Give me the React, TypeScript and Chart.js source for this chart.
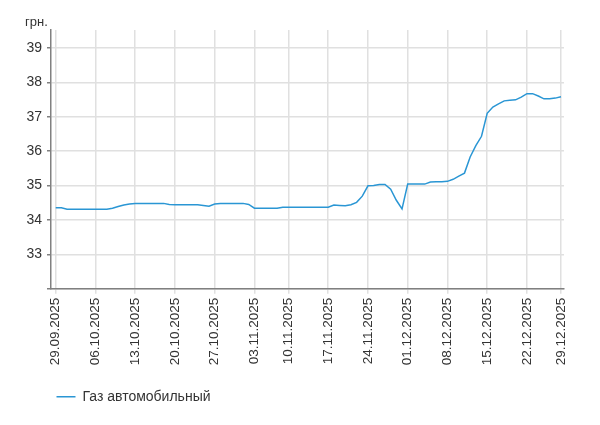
import React, { useEffect, useRef } from 'react';
import { Chart, registerables } from 'chart.js';

Chart.register(...registerables);

// ---- data ----
const firstDate = '2025-09-29';
const lastDate = '2025-12-29';
const missingDates = ['04.11.2025', '25.12.2025'];

const seriesName = 'Газ автомобильный';
const unitLabel = 'грн.';

const gasPrices = [
  34.35, 34.35, 34.31, 34.31, 34.31, 34.31, 34.31, 34.31, 34.31, 34.31,
  34.34, 34.39, 34.43, 34.46, 34.48, 34.48, 34.48, 34.48, 34.48, 34.48,
  34.45, 34.44, 34.44, 34.44, 34.44, 34.44, 34.42, 34.40, 34.46, 34.48,
  34.48, 34.48, 34.48, 34.48, 34.45, 34.34, 34.34, 34.34, 34.34, 34.34,
  34.37, 34.37, 34.37, 34.37, 34.37, 34.37, 34.37, 34.37, 34.37, 34.43,
  34.42, 34.41, 34.44, 34.51, 34.69, 34.99, 35.00, 35.03, 35.03, 34.89,
  34.57, 34.32, 35.04, 35.04, 35.04, 35.04, 35.10, 35.11, 35.11, 35.12,
  35.18, 35.27, 35.36, 35.83, 36.16, 36.43, 37.10, 37.28, 37.37, 37.46,
  37.48, 37.49, 37.57, 37.67, 37.67, 37.60, 37.52, 37.52, 37.54, 37.58,
];

const tickLabels = [
  '29.09.2025', '06.10.2025', '13.10.2025', '20.10.2025', '27.10.2025',
  '03.11.2025', '10.11.2025', '17.11.2025', '24.11.2025', '01.12.2025',
  '08.12.2025', '15.12.2025', '22.12.2025', '29.12.2025',
];

const yTicks = [32, 33, 34, 35, 36, 37, 38, 39];

function fmt(d: Date): string {
  const dd = String(d.getUTCDate()).padStart(2, '0');
  const mm = String(d.getUTCMonth() + 1).padStart(2, '0');
  return `${dd}.${mm}.${d.getUTCFullYear()}`;
}

function buildCategories(): string[] {
  const out: string[] = [];
  const d = new Date(firstDate + 'T00:00:00Z');
  const end = new Date(lastDate + 'T00:00:00Z');
  while (d <= end) {
    const s = fmt(d);
    if (!missingDates.includes(s)) out.push(s);
    d.setUTCDate(d.getUTCDate() + 1);
  }
  return out;
}

const categories = buildCategories();
const tickIndices = tickLabels.map((l) => categories.indexOf(l));

// ---- style ----
const FONT = '"Liberation Sans", Arial, Helvetica, sans-serif';
const LINE = '#2a96d4';
const GRID = '#e0e0e0';
const AXIS = '#808080';
const TEXT = '#333333';
const LEGEND_LEFT = 46.5;

const unitPlugin = {
  id: 'unitLabel',
  afterLayout(chart: any) {
    if (chart.legend) chart.legend.left = LEGEND_LEFT;
  },
  afterDraw(chart: any) {
    const { ctx, chartArea } = chart;
    ctx.save();
    ctx.font = `13px ${FONT}`;
    ctx.fillStyle = TEXT;
    ctx.textAlign = 'left';
    ctx.textBaseline = 'alphabetic';
    ctx.fillText(unitLabel, chartArea.left - 26, chartArea.top - 4);
    ctx.restore();
  },
};

export default function App() {
  const canvasRef = useRef<HTMLCanvasElement | null>(null);

  useEffect(() => {
    if (!canvasRef.current) return;
    const chart = new Chart(canvasRef.current, {
      type: 'line',
      data: {
        datasets: [
          {
            label: seriesName,
            data: gasPrices.map((v, i) => ({ x: i, y: v })),
            borderColor: LINE,
            backgroundColor: LINE,
            borderWidth: 1.5,
            pointRadius: 0,
            tension: 0,
            fill: false,
          },
        ],
      },
      options: {
        animation: false,
        responsive: true,
        maintainAspectRatio: false,
        layout: { padding: { top: 30, right: 36, bottom: 11.3, left: 0 } },
        plugins: {
          legend: {
            position: 'bottom',
            align: 'start',
            labels: {
              boxWidth: 19,
              boxHeight: 0,
              padding: 10,
              color: TEXT,
              font: { family: FONT, size: 14 },
            },
          },
          tooltip: { enabled: false },
        },
        scales: {
          x: {
            type: 'linear',
            min: -0.83,
            max: 89.53,
            afterBuildTicks: (s: any) => {
              s.ticks = tickIndices.map((v) => ({ value: v }));
            },
            afterFit: (s: any) => {
              s.height = 91;
              s.paddingLeft = 0;
              s.paddingRight = 0;
            },
            ticks: {
              autoSkip: false,
              maxRotation: 90,
              minRotation: 90,
              padding: 4,
              color: TEXT,
              font: { family: FONT, size: 13.5 },
              callback: (v: any) => categories[v] ?? '',
            },
            grid: { color: GRID, lineWidth: 1.5, tickLength: 5, tickColor: GRID },
            border: { color: AXIS, width: 1.5 },
          },
          y: {
            min: 32,
            max: 39.52,
            afterBuildTicks: (s: any) => {
              s.ticks = yTicks.map((v) => ({ value: v }));
            },
            afterFit: (s: any) => {
              s.width = 51;
              s.paddingTop = 0;
              s.paddingBottom = 0;
            },
            ticks: {
              autoSkip: false,
              padding: 5,
              color: TEXT,
              font: { family: FONT, size: 14 },
              callback: (v: any) => (v === 32 ? '' : String(v)),
            },
            grid: { color: GRID, lineWidth: 1.5, tickLength: 4, tickColor: AXIS },
            border: { color: AXIS, width: 1.5 },
          },
        },
      },
      plugins: [unitPlugin],
    });
    return () => chart.destroy();
  }, []);

  return (
    <div style={{ position: 'fixed', left: 0, top: 0, width: 600, height: 425, background: '#fff' }}>
      <canvas ref={canvasRef} />
    </div>
  );
}
